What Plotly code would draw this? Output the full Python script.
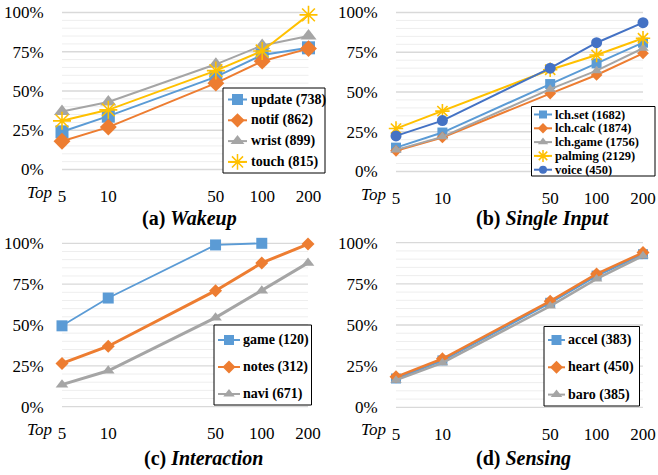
import math
import plotly.graph_objects as go

W, H = 658, 475
FONT = "Liberation Serif"

# ---------------- data ----------------
top_n = [5, 10, 50, 100, 200]
tick_labels = ["5", "10", "50", "100", "200"]
y_ticks = [0, 25, 50, 75, 100]
y_tick_labels = ["0%", "25%", "50%", "75%", "100%"]

wakeup_names = ["update (738)", "notif (862)", "wrist (899)", "touch (815)"]
wakeup_update = [24, 34, 59, 73, 77.5]
wakeup_notif = [18, 27, 55, 69, 77]
wakeup_wrist = [37, 43, 67, 79, 85]
wakeup_touch = [31, 38, 63, 75.5, 98.5]

single_names = ["lch.set (1682)", "lch.calc (1874)", "lch.game (1756)", "palming (2129)", "voice (450)"]
single_lchset = [15, 24.5, 55, 68, 81]
single_lchcalc = [13, 21.4, 49, 60.7, 74.3]
single_lchgame = [13.6, 21.8, 51.8, 63.4, 77.5]
single_palming = [27, 38, 64, 73.3, 83.8]
single_voice = [22.4, 32, 65, 81, 93.6]

inter_names = ["game (120)", "notes (312)", "navi (671)"]
inter_game = [49.5, 66.5, 99, 100, None]
inter_notes = [26.5, 37, 71, 88, 99.5]
inter_navi = [13.5, 22, 54.5, 71, 88]

sens_names = ["accel (383)", "heart (450)", "baro (385)"]
sens_accel = [17.5, 28.5, 63.5, 80, 93]
sens_heart = [18.5, 29.5, 64.5, 81, 94]
sens_baro = [16.5, 27, 61.5, 78, 92]

captions = ["<b>(a) <i>Wakeup</i></b>", "<b>(b) <i>Single Input</i></b>",
            "<b>(c) <i>Interaction</i></b>", "<b>(d) <i>Sensing</i></b>"]

# ---------------- styles ----------------
BLUE, ORANGE, GRAY, GOLD, DBLUE = "#5B9BD5", "#ED7D31", "#A5A5A5", "#FFC000", "#4472C4"
STY = {
    "sq": dict(color=BLUE, symbol="square"),
    "di": dict(color=ORANGE, symbol="diamond"),
    "tr": dict(color=GRAY, symbol="triangle-up"),
    "st": dict(color=GOLD, symbol="asterisk-open"),
    "ci": dict(color=DBLUE, symbol="circle"),
}

# panel geometry in pixels: x0 (x=5), x1 (x=200), yt (100%), yb (0%)
panels = [
    dict(x0=62, x1=308.5, yt=12.5, yb=169.5, top_x=39, cap=(189, 218),
         series=[(wakeup_update, "sq", 13), (wakeup_notif, "di", 13), (wakeup_wrist, "tr", 14), (wakeup_touch, "st", 15)],
         names=wakeup_names, lw=[2, 2, 2, 2],
         leg=dict(box=(223, 88, 325, 173), y0=99.5, step=20.8, sx=(228, 247), tx=249, ms=[11, 11, 12, 13], fs=14)),
    dict(x0=396, x1=643, yt=12.5, yb=171.5, top_x=373, cap=(543, 218),
         series=[(single_lchset, "sq", 10), (single_lchcalc, "di", 9), (single_lchgame, "tr", 10), (single_palming, "st", 12), (single_voice, "ci", 11)],
         names=single_names, lw=[2, 2, 2, 2, 2],
         leg=dict(box=(531.5, 106.5, 655, 176), y0=114.5, step=13.8, sx=(534, 552), tx=553, ms=[8, 8, 9, 10, 8], fs=12.5)),
    dict(x0=62, x1=308, yt=243.3, yb=406.7, top_x=39, cap=(203, 458),
         series=[(inter_game, "sq", 11), (inter_notes, "di", 10), (inter_navi, "tr", 11)],
         names=inter_names, lw=[1.8, 3, 3],
         leg=dict(box=(214, 325, 311.5, 405), y0=340, step=27, sx=(218, 240), tx=241, ms=[10, 10, 10], fs=14)),
    dict(x0=396, x1=643, yt=242.7, yb=407.3, top_x=373, cap=(523, 458),
         series=[(sens_accel, "sq", 10), (sens_heart, "di", 10), (sens_baro, "tr", 10)],
         names=sens_names, lw=[2.5, 2.5, 2.5],
         leg=dict(box=(544, 326.5, 639.5, 406), y0=340, step=27.3, sx=(548, 565), tx=566, ms=[10, 10, 10], fs=14)),
]

def fx(p):
    return p / W

def fy(p):
    return 1 - p / H

fig = go.Figure()
layout = dict(width=W, height=H, autosize=False, margin=dict(l=0, r=0, t=0, b=0, pad=0),
              paper_bgcolor="white", plot_bgcolor="rgba(0,0,0,0)", template="none",
              showlegend=False, font=dict(family=FONT, color="black"))
annotations = []
shapes = []

LX0, LX1 = math.log10(top_n[0]), math.log10(top_n[-1])
for i, p in enumerate(panels):
    n = "" if i == 0 else str(i + 1)
    xa, ya = "x" + n, "y" + n
    # pad the ranges by a couple of pixels so edge points are kept
    dpx = (LX1 - LX0) / (p["x1"] - p["x0"])
    padx = 2
    kpy = (p["yb"] - p["yt"]) / 100.0
    pady = 2
    layout["xaxis" + n] = dict(
        type="log", range=[LX0 - padx * dpx, LX1 + padx * dpx],
        domain=[fx(p["x0"] - padx), fx(p["x1"] + padx)], anchor=ya,
        tickvals=top_n, ticktext=tick_labels, ticks="outside", ticklen=9,
        tickcolor="rgba(0,0,0,0)", showgrid=False, zeroline=False, showline=False,
        automargin=False, tickfont=dict(family=FONT, size=17, color="black"), fixedrange=True)
    layout["yaxis" + n] = dict(
        range=[-pady / kpy, 100 + pady / kpy], domain=[fy(p["yb"] + pady), fy(p["yt"] - pady)], anchor=xa,
        tickvals=y_ticks, ticktext=y_tick_labels, ticks="outside", ticklen=12,
        tickcolor="rgba(0,0,0,0)", showgrid=False, zeroline=False, showline=False,
        automargin=False, tickfont=dict(family=FONT, size=17, color="black"), fixedrange=True)
    # gridlines spanning the 5..200 extent on the data axes
    for gv in range(0, 101, 5):
        major = gv % 25 == 0
        shapes.append(dict(
            type="line", xref=xa, yref=ya, x0=top_n[0], x1=top_n[-1], y0=gv, y1=gv,
            line=dict(color="#D9D9D9" if major else "#EEEEEE", width=1.3 if major else 1),
            layer="below"))
    for (vals, key, ms), lw in zip(p["series"], p["lw"]):
        s = STY[key]
        marker = dict(symbol=s["symbol"], size=ms, color=s["color"])
        if key == "st":
            marker["line"] = dict(color=s["color"], width=1.6)
        fig.add_trace(go.Scatter(x=top_n, y=vals, mode="lines+markers", xaxis=xa, yaxis=ya,
                                 line=dict(color=s["color"], width=lw), marker=marker,
                                 cliponaxis=False, connectgaps=False, hoverinfo="skip"))
    # "Top" prefix label
    annotations.append(dict(x=p["top_x"], y=p["yb"] + 22.5, xref="x5", yref="y5", text="<i>Top</i>",
                            showarrow=False, font=dict(family=FONT, size=17, color="black"),
                            xanchor="center", yanchor="middle"))
    # caption
    annotations.append(dict(x=p["cap"][0], y=p["cap"][1], xref="x5", yref="y5", text=captions[i],
                            showarrow=False, font=dict(family=FONT, size=20, color="black"),
                            xanchor="center", yanchor="middle"))

# overlay axis in pixel coordinates for the custom legends
layout["xaxis5"] = dict(domain=[0, 1], range=[0, W], visible=False, fixedrange=True, anchor="y5", automargin=False)
layout["yaxis5"] = dict(domain=[0, 1], range=[H, 0], visible=False, fixedrange=True, anchor="x5", automargin=False)

for i, p in enumerate(panels):
    lg = p["leg"]
    bx0, by0, bx1, by1 = lg["box"]
    fig.add_trace(go.Scatter(x=[bx0, bx1, bx1, bx0, bx0], y=[by0, by0, by1, by1, by0],
                             mode="lines", fill="toself", fillcolor="white",
                             line=dict(color="black", width=1), xaxis="x5", yaxis="y5",
                             hoverinfo="skip", cliponaxis=False))
    for j, ((vals, key, _), name) in enumerate(zip(p["series"], p["names"])):
        s = STY[key]
        yy = lg["y0"] + j * lg["step"]
        sx0, sx1 = lg["sx"]
        fig.add_trace(go.Scatter(x=[sx0, sx1], y=[yy, yy], mode="lines", xaxis="x5", yaxis="y5",
                                 line=dict(color=s["color"], width=2), hoverinfo="skip", cliponaxis=False))
        marker = dict(symbol=s["symbol"], size=lg["ms"][j], color=s["color"])
        if key == "st":
            marker["line"] = dict(color=s["color"], width=1.5)
        fig.add_trace(go.Scatter(x=[(sx0 + sx1) / 2], y=[yy], mode="markers", xaxis="x5", yaxis="y5",
                                 marker=marker, hoverinfo="skip", cliponaxis=False))
        annotations.append(dict(x=lg["tx"], y=yy, xref="x5", yref="y5", text="<b>" + name + "</b>",
                                showarrow=False, xanchor="left", yanchor="middle",
                                font=dict(family=FONT, size=lg["fs"], color="black")))

layout["annotations"] = annotations
layout["shapes"] = shapes
fig.update_layout(**layout)
fig.write_html("out.html", config=dict(displayModeBar=False, staticPlot=True),
               post_script="document.body.style.margin='0';document.body.style.overflow='hidden';")
